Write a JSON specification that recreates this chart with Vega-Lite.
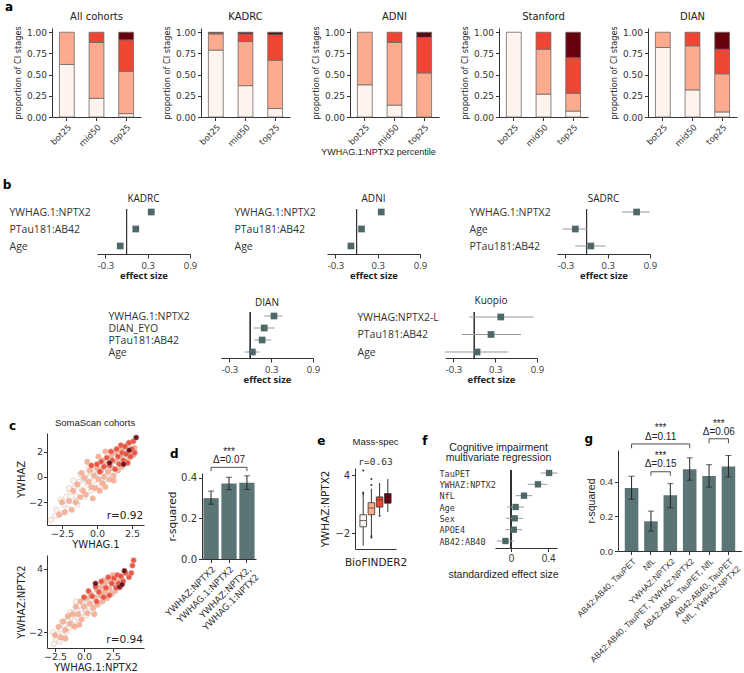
{
"$schema": "https://vega.github.io/schema/vega-lite/v6.json",
"padding": {"left": 2, "top": 0, "right": 0, "bottom": 0},
"config": {"background": "white", "view": {"stroke": null}, "font": "DejaVu Sans",
 "axis": {"grid": false, "domainColor": "#333", "tickColor": "#333", "labelColor": "#333", "titleColor": "#222", "labelFont": "DejaVu Sans", "titleFont": "DejaVu Sans", "titleFontWeight": "normal", "labelFontSize": 10, "titleFontSize": 10.5, "tickSize": 3.5, "labelPadding": 2, "titlePadding": 3, "labelFlush": false},
 "title": {"font": "DejaVu Sans", "fontWeight": "normal", "fontSize": 10, "color": "#222", "offset": 4}},
"datasets": {
 "a": [
  {"c":"All cohorts","g":"bot25","s":0,"v":0.62},{"c":"All cohorts","g":"bot25","s":1,"v":0.38},
  {"c":"All cohorts","g":"mid50","s":0,"v":0.22},{"c":"All cohorts","g":"mid50","s":1,"v":0.66},{"c":"All cohorts","g":"mid50","s":2,"v":0.12},
  {"c":"All cohorts","g":"top25","s":0,"v":0.04},{"c":"All cohorts","g":"top25","s":1,"v":0.50},{"c":"All cohorts","g":"top25","s":2,"v":0.37},{"c":"All cohorts","g":"top25","s":3,"v":0.09},
  {"c":"KADRC","g":"bot25","s":0,"v":0.79},{"c":"KADRC","g":"bot25","s":1,"v":0.19},{"c":"KADRC","g":"bot25","s":2,"v":0.015},{"c":"KADRC","g":"bot25","s":3,"v":0.005},
  {"c":"KADRC","g":"mid50","s":0,"v":0.37},{"c":"KADRC","g":"mid50","s":1,"v":0.52},{"c":"KADRC","g":"mid50","s":2,"v":0.09},{"c":"KADRC","g":"mid50","s":3,"v":0.02},
  {"c":"KADRC","g":"top25","s":0,"v":0.10},{"c":"KADRC","g":"top25","s":1,"v":0.57},{"c":"KADRC","g":"top25","s":2,"v":0.30},{"c":"KADRC","g":"top25","s":3,"v":0.03},
  {"c":"ADNI","g":"bot25","s":0,"v":0.38},{"c":"ADNI","g":"bot25","s":1,"v":0.62},
  {"c":"ADNI","g":"mid50","s":0,"v":0.14},{"c":"ADNI","g":"mid50","s":1,"v":0.74},{"c":"ADNI","g":"mid50","s":2,"v":0.12},
  {"c":"ADNI","g":"top25","s":1,"v":0.52},{"c":"ADNI","g":"top25","s":2,"v":0.42},{"c":"ADNI","g":"top25","s":3,"v":0.06},
  {"c":"Stanford","g":"bot25","s":0,"v":1.0},
  {"c":"Stanford","g":"mid50","s":0,"v":0.27},{"c":"Stanford","g":"mid50","s":1,"v":0.53},{"c":"Stanford","g":"mid50","s":2,"v":0.20},
  {"c":"Stanford","g":"top25","s":0,"v":0.07},{"c":"Stanford","g":"top25","s":1,"v":0.21},{"c":"Stanford","g":"top25","s":2,"v":0.42},{"c":"Stanford","g":"top25","s":3,"v":0.30},
  {"c":"DIAN","g":"bot25","s":0,"v":0.82},{"c":"DIAN","g":"bot25","s":1,"v":0.18},
  {"c":"DIAN","g":"mid50","s":0,"v":0.32},{"c":"DIAN","g":"mid50","s":1,"v":0.52},{"c":"DIAN","g":"mid50","s":2,"v":0.16},
  {"c":"DIAN","g":"top25","s":0,"v":0.06},{"c":"DIAN","g":"top25","s":1,"v":0.45},{"c":"DIAN","g":"top25","s":2,"v":0.29},{"c":"DIAN","g":"top25","s":3,"v":0.20}
 ],
 "b": [
  {"c":"KADRC","v":"YWHAG.1:NPTX2","e":0.35,"lo":0.30,"hi":0.40},
  {"c":"KADRC","v":"PTau181:AB42","e":0.13,"lo":0.09,"hi":0.18},
  {"c":"KADRC","v":"Age","e":-0.09,"lo":-0.12,"hi":-0.06},
  {"c":"ADNI","v":"YWHAG.1:NPTX2","e":0.35,"lo":0.32,"hi":0.38},
  {"c":"ADNI","v":"PTau181:AB42","e":0.07,"lo":0.04,"hi":0.10},
  {"c":"ADNI","v":"Age","e":-0.08,"lo":-0.13,"hi":-0.04},
  {"c":"SADRC","v":"YWHAG.1:NPTX2","e":0.71,"lo":0.50,"hi":0.90},
  {"c":"SADRC","v":"Age","e":-0.16,"lo":-0.34,"hi":0.01},
  {"c":"SADRC","v":"PTau181:AB42","e":0.06,"lo":-0.16,"hi":0.27},
  {"c":"DIAN","v":"YWHAG.1:NPTX2","e":0.34,"lo":0.20,"hi":0.46},
  {"c":"DIAN","v":"DIAN_EYO","e":0.20,"lo":0.05,"hi":0.35},
  {"c":"DIAN","v":"PTau181:AB42","e":0.17,"lo":0.06,"hi":0.30},
  {"c":"DIAN","v":"Age","e":0.03,"lo":-0.08,"hi":0.13},
  {"c":"Kuopio","v":"YWHAG:NPTX2-L","e":0.38,"lo":-0.07,"hi":0.85},
  {"c":"Kuopio","v":"PTau181:AB42","e":0.24,"lo":-0.18,"hi":0.67},
  {"c":"Kuopio","v":"Age","e":0.04,"lo":-0.42,"hi":0.49}
 ],
 "c1": [
  {"x":-3.3,"y":-3.4,"s":0},{"x":-3.0,"y":-3.1,"s":0},{"x":-2.9,"y":-2.6,"s":0},{"x":-2.6,"y":-2.9,"s":0},{"x":-2.4,"y":-2.2,"s":0},{"x":-2.2,"y":-1.6,"s":0},{"x":-2.1,"y":-2.5,"s":0},{"x":-1.9,"y":-1.2,"s":0},{"x":-1.8,"y":-1.9,"s":0},{"x":-1.6,"y":-0.8,"s":0},{"x":-1.5,"y":-1.5,"s":0},{"x":-1.4,"y":-2.2,"s":0},{"x":-1.3,"y":-0.4,"s":0},{"x":-1.1,"y":-1.0,"s":0},{"x":-1.0,"y":-0.2,"s":0},{"x":-0.9,"y":-1.6,"s":0},{"x":-0.8,"y":0.3,"s":0},{"x":-0.7,"y":-0.6,"s":0},{"x":-0.5,"y":0.0,"s":0},{"x":-0.4,"y":-1.1,"s":0},{"x":-0.3,"y":0.6,"s":0},{"x":-0.2,"y":-0.3,"s":0},{"x":0.0,"y":0.2,"s":0},{"x":0.1,"y":-0.8,"s":0},{"x":0.2,"y":0.9,"s":0},{"x":0.3,"y":0.1,"s":0},{"x":0.5,"y":-0.3,"s":0},{"x":0.6,"y":0.7,"s":0},{"x":0.8,"y":0.3,"s":0},{"x":1.0,"y":1.2,"s":0},{"x":-2.0,"y":-0.9,"s":0},{"x":-1.7,"y":-0.3,"s":0},{"x":-2.6,"y":-1.8,"s":0},{"x":-1.2,"y":0.2,"s":0},{"x":-0.6,"y":0.8,"s":0},
  {"x":-2.7,"y":-3.0,"s":1},{"x":-2.5,"y":-2.0,"s":1},{"x":-2.3,"y":-2.8,"s":1},{"x":-2.0,"y":-1.9,"s":1},{"x":-1.8,"y":-2.6,"s":1},{"x":-1.7,"y":-1.1,"s":1},{"x":-1.5,"y":-2.0,"s":1},{"x":-1.4,"y":-0.6,"s":1},{"x":-1.2,"y":-1.6,"s":1},{"x":-1.0,"y":-1.1,"s":1},{"x":-0.9,"y":-0.1,"s":1},{"x":-0.8,"y":-1.4,"s":1},{"x":-0.6,"y":-0.4,"s":1},{"x":-0.5,"y":0.5,"s":1},{"x":-0.4,"y":-0.8,"s":1},{"x":-0.2,"y":0.1,"s":1},{"x":-0.1,"y":-0.9,"s":1},{"x":0.0,"y":0.7,"s":1},{"x":0.1,"y":-0.2,"s":1},{"x":0.2,"y":-1.1,"s":1},{"x":0.3,"y":0.5,"s":1},{"x":0.4,"y":1.3,"s":1},{"x":0.5,"y":0.0,"s":1},{"x":0.6,"y":-0.8,"s":1},{"x":0.7,"y":1.0,"s":1},{"x":0.8,"y":0.4,"s":1},{"x":0.9,"y":-0.2,"s":1},{"x":1.0,"y":1.6,"s":1},{"x":1.1,"y":0.7,"s":1},{"x":1.2,"y":0.1,"s":1},{"x":1.3,"y":1.9,"s":1},{"x":1.4,"y":1.2,"s":1},{"x":1.5,"y":0.5,"s":1},{"x":1.6,"y":2.1,"s":1},{"x":1.7,"y":1.5,"s":1},{"x":1.8,"y":0.8,"s":1},{"x":1.9,"y":2.3,"s":1},{"x":2.0,"y":1.8,"s":1},{"x":2.1,"y":1.1,"s":1},{"x":2.2,"y":2.6,"s":1},{"x":2.3,"y":1.5,"s":1},{"x":2.4,"y":2.0,"s":1},{"x":2.6,"y":1.7,"s":1},{"x":2.7,"y":2.3,"s":1},{"x":-1.1,"y":0.3,"s":1},{"x":-0.3,"y":-1.7,"s":1},{"x":0.4,"y":-0.5,"s":1},{"x":1.2,"y":-0.3,"s":1},{"x":-0.7,"y":1.2,"s":1},{"x":0.1,"y":1.6,"s":1},{"x":0.6,"y":2.0,"s":1},
  {"x":0.0,"y":1.0,"s":2},{"x":0.3,"y":1.2,"s":2},{"x":0.5,"y":0.8,"s":2},{"x":0.7,"y":1.5,"s":2},{"x":0.9,"y":0.9,"s":2},{"x":1.0,"y":2.0,"s":2},{"x":1.1,"y":1.3,"s":2},{"x":1.3,"y":0.6,"s":2},{"x":1.4,"y":2.2,"s":2},{"x":1.5,"y":1.6,"s":2},{"x":1.6,"y":1.0,"s":2},{"x":1.7,"y":2.5,"s":2},{"x":1.8,"y":1.9,"s":2},{"x":1.9,"y":1.3,"s":2},{"x":2.0,"y":2.4,"s":2},{"x":2.1,"y":1.8,"s":2},{"x":2.2,"y":1.1,"s":2},{"x":2.3,"y":2.7,"s":2},{"x":2.4,"y":1.6,"s":2},{"x":2.5,"y":2.2,"s":2},{"x":2.6,"y":2.8,"s":2},{"x":2.7,"y":1.9,"s":2},{"x":-0.4,"y":0.9,"s":2},{"x":0.2,"y":0.4,"s":2},
  {"x":2.8,"y":3.1,"s":3},{"x":1.9,"y":1.0,"s":3},{"x":0.9,"y":1.1,"s":3},{"x":2.3,"y":2.1,"s":3}
 ],
 "c2": [
  {"x":-2.6,"y":-3.1,"s":0},{"x":-2.4,"y":-2.7,"s":0},{"x":-2.3,"y":-2.2,"s":0},{"x":-2.1,"y":-2.9,"s":0},{"x":-2.0,"y":-1.7,"s":0},{"x":-1.8,"y":-2.3,"s":0},{"x":-1.7,"y":-1.3,"s":0},{"x":-1.5,"y":-2.0,"s":0},{"x":-1.4,"y":-0.9,"s":0},{"x":-1.3,"y":-1.6,"s":0},{"x":-1.1,"y":-0.6,"s":0},{"x":-1.0,"y":-1.3,"s":0},{"x":-0.9,"y":-0.2,"s":0},{"x":-0.8,"y":-0.9,"s":0},{"x":-0.6,"y":0.1,"s":0},{"x":-0.5,"y":-0.6,"s":0},{"x":-0.4,"y":0.5,"s":0},{"x":-0.2,"y":-0.2,"s":0},{"x":-0.1,"y":0.8,"s":0},{"x":0.1,"y":0.2,"s":0},{"x":0.2,"y":-0.4,"s":0},{"x":0.3,"y":0.9,"s":0},{"x":0.5,"y":0.4,"s":0},{"x":0.7,"y":1.1,"s":0},{"x":0.8,"y":-0.1,"s":0},{"x":1.0,"y":0.8,"s":0},{"x":1.2,"y":1.4,"s":0},{"x":-1.9,"y":-1.0,"s":0},{"x":-1.2,"y":-0.1,"s":0},{"x":0.4,"y":1.5,"s":0},{"x":-2.7,"y":-2.0,"s":0},{"x":-0.7,"y":0.9,"s":0},
  {"x":-2.5,"y":-2.3,"s":1},{"x":-2.2,"y":-1.5,"s":1},{"x":-2.0,"y":-2.5,"s":1},{"x":-1.8,"y":-1.0,"s":1},{"x":-1.6,"y":-1.8,"s":1},{"x":-1.4,"y":-0.5,"s":1},{"x":-1.2,"y":-1.2,"s":1},{"x":-1.0,"y":-0.3,"s":1},{"x":-0.8,"y":-1.5,"s":1},{"x":-0.7,"y":0.4,"s":1},{"x":-0.5,"y":-0.3,"s":1},{"x":-0.3,"y":0.9,"s":1},{"x":-0.2,"y":-0.8,"s":1},{"x":0.0,"y":0.4,"s":1},{"x":0.2,"y":1.2,"s":1},{"x":0.3,"y":-0.2,"s":1},{"x":0.5,"y":0.7,"s":1},{"x":0.6,"y":1.6,"s":1},{"x":0.8,"y":0.3,"s":1},{"x":0.9,"y":1.3,"s":1},{"x":1.1,"y":2.0,"s":1},{"x":1.2,"y":0.6,"s":1},{"x":1.4,"y":1.5,"s":1},{"x":1.5,"y":2.3,"s":1},{"x":1.6,"y":0.9,"s":1},{"x":1.8,"y":1.8,"s":1},{"x":1.9,"y":2.7,"s":1},{"x":2.0,"y":1.2,"s":1},{"x":2.2,"y":2.1,"s":1},{"x":2.3,"y":3.0,"s":1},{"x":2.4,"y":1.6,"s":1},{"x":2.6,"y":2.5,"s":1},{"x":2.7,"y":1.9,"s":1},{"x":2.9,"y":2.8,"s":1},{"x":3.1,"y":2.2,"s":1},{"x":3.3,"y":3.0,"s":1},{"x":-1.6,"y":-2.6,"s":1},{"x":-0.4,"y":-1.3,"s":1},{"x":0.9,"y":-0.3,"s":1},{"x":1.7,"y":2.9,"s":1},{"x":2.5,"y":3.4,"s":1},
  {"x":0.4,"y":1.9,"s":2},{"x":0.7,"y":1.4,"s":2},{"x":1.0,"y":2.3,"s":2},{"x":1.3,"y":1.8,"s":2},{"x":1.5,"y":2.8,"s":2},{"x":1.7,"y":1.3,"s":2},{"x":1.9,"y":2.2,"s":2},{"x":2.1,"y":3.2,"s":2},{"x":2.2,"y":1.5,"s":2},{"x":2.4,"y":2.6,"s":2},{"x":2.6,"y":3.1,"s":2},{"x":2.8,"y":2.2,"s":2},{"x":2.9,"y":3.4,"s":2},{"x":3.0,"y":2.6,"s":2},{"x":3.2,"y":3.3,"s":2},{"x":3.4,"y":2.8,"s":2},{"x":3.6,"y":3.6,"s":2},{"x":3.9,"y":3.2,"s":2},{"x":4.2,"y":4.3,"s":2},{"x":4.3,"y":4.8,"s":2},{"x":4.1,"y":3.6,"s":2},{"x":0.0,"y":1.3,"s":2},{"x":1.1,"y":0.9,"s":2},
  {"x":3.5,"y":3.8,"s":3},{"x":3.1,"y":2.3,"s":3},{"x":3.3,"y":2.5,"s":3},{"x":1.0,"y":2.6,"s":3}
 ],
 "d": [
  {"m":"YWHAZ:NPTX2","v":0.30,"lo":0.27,"hi":0.335},
  {"m":"YWHAG.1:NPTX2","v":0.372,"lo":0.342,"hi":0.403},
  {"m":"YWHAZ:NPTX2,|YWHAG.1:NPTX2","v":0.376,"lo":0.343,"hi":0.41}
 ],
 "dbr": [
  {"m":"YWHAZ:NPTX2","y":0.433,"o":1},{"m":"YWHAZ:NPTX2","y":0.452,"o":2},
  {"m":"YWHAZ:NPTX2,|YWHAG.1:NPTX2","y":0.452,"o":3},{"m":"YWHAZ:NPTX2,|YWHAG.1:NPTX2","y":0.433,"o":4}
 ],
 "dtx": [
  {"m":"YWHAG.1:NPTX2","y":0.49,"t":"Δ=0.07"},
  {"m":"YWHAG.1:NPTX2","y":0.53,"t":"***"}
 ],
 "ebox": [
  {"s":0,"lo":-3.3,"q1":-1.35,"med":-0.7,"q3":-0.1,"hi":2.0},
  {"s":1,"lo":-2.2,"q1":-0.1,"med":0.6,"q3":1.15,"hi":2.6},
  {"s":2,"lo":-0.1,"q1":0.7,"med":1.45,"q3":1.75,"hi":3.2},
  {"s":3,"lo":0.2,"q1":1.1,"med":1.6,"q3":2.1,"hi":3.6}
 ],
 "eout": [
  {"s":0,"v":4.5},{"s":0,"v":2.2},{"s":0,"v":2.05},
  {"s":1,"v":3.6},{"s":1,"v":3.0},{"s":1,"v":-2.3},{"s":1,"v":-2.45},
  {"s":2,"v":-0.2}
 ],
 "f": [
  {"v":"TauPET","e":0.41,"lo":0.32,"hi":0.50},
  {"v":"YWHAZ:NPTX2","e":0.29,"lo":0.18,"hi":0.39},
  {"v":"NfL","e":0.14,"lo":0.05,"hi":0.23},
  {"v":"Age","e":0.05,"lo":-0.04,"hi":0.14},
  {"v":"Sex","e":0.04,"lo":-0.05,"hi":0.13},
  {"v":"APOE4","e":0.03,"lo":-0.06,"hi":0.12},
  {"v":"AB42:AB40","e":-0.06,"lo":-0.15,"hi":0.03}
 ],
 "g": [
  {"m":"AB42:AB40, TauPET","v":0.365,"lo":0.30,"hi":0.433},
  {"m":"NfL","v":0.172,"lo":0.116,"hi":0.231},
  {"m":"YWHAZ:NPTX2","v":0.323,"lo":0.25,"hi":0.39},
  {"m":"AB42:AB40, TauPET, YWHAZ:NPTX2","v":0.474,"lo":0.41,"hi":0.54},
  {"m":"AB42:AB40, TauPET, NfL","v":0.435,"lo":0.37,"hi":0.50},
  {"m":"AB42:AB40, TauPET|NfL, YWHAZ:NPTX2","v":0.49,"lo":0.429,"hi":0.553}
 ],
 "gbr": [
  {"b":1,"m":"AB42:AB40, TauPET","y":0.595,"o":1},{"b":1,"m":"AB42:AB40, TauPET","y":0.62,"o":2},
  {"b":1,"m":"AB42:AB40, TauPET, YWHAZ:NPTX2","y":0.62,"o":3},{"b":1,"m":"AB42:AB40, TauPET, YWHAZ:NPTX2","y":0.595,"o":4},
  {"b":2,"m":"NfL","y":0.436,"o":1},{"b":2,"m":"NfL","y":0.459,"o":2},
  {"b":2,"m":"YWHAZ:NPTX2","y":0.459,"o":3},{"b":2,"m":"YWHAZ:NPTX2","y":0.436,"o":4},
  {"b":3,"m":"AB42:AB40, TauPET, NfL","y":0.624,"o":1},{"b":3,"m":"AB42:AB40, TauPET, NfL","y":0.65,"o":2},
  {"b":3,"m":"AB42:AB40, TauPET|NfL, YWHAZ:NPTX2","y":0.65,"o":3},{"b":3,"m":"AB42:AB40, TauPET|NfL, YWHAZ:NPTX2","y":0.624,"o":4}
 ],
 "gtx": [
  {"m":"NfL","y":0.663,"t":"Δ=0.11"},{"m":"NfL","y":0.71,"t":"***"},
  {"m":"NfL","y":0.502,"t":"Δ=0.15"},{"m":"NfL","y":0.55,"t":"***"},
  {"m":"AB42:AB40, TauPET, NfL","y":0.688,"t":"Δ=0.06"},{"m":"AB42:AB40, TauPET, NfL","y":0.737,"t":"***"}
 ]
},
"spacing": 0,
"vconcat": [
 {"title": {"text": "a", "anchor": "start", "fontWeight": "bold", "fontSize": 12, "offset": -2, "color": "#000"},
  "spacing": 0,
  "hconcat": [
   {"width": 8, "height": 1, "data": {"values": [{}]}, "mark": {"type": "point", "opacity": 0}},
   {"bounds": "flush", "spacing": 60,
    "hconcat": [
     {"width": 89, "height": 89, "title": {"text": "All cohorts", "offset": 4}, "data": {"name": "a"}, "transform": [{"filter": "datum.c === 'All cohorts'"}],
      "mark": {"type": "bar", "stroke": "#6b6b6b", "strokeWidth": 0.8},
      "encoding": {
       "x": {"field": "g", "type": "nominal", "sort": ["bot25","mid50","top25"], "scale": {"paddingInner": 0.5, "paddingOuter": 0.25}, "axis": {"title": null, "labelAngle": -45, "labelFontSize": 8.5}},
       "y": {"field": "v", "type": "quantitative", "stack": "zero", "scale": {"domain": [0, 1.05], "nice": false}, "axis": {"values": [0,0.25,0.5,0.75,1], "format": ".2f", "title": "proportion of CI stages", "titleFontSize": 8.2, "labelFontSize": 9, "titlePadding": 4}},
       "color": {"field": "s", "type": "ordinal", "scale": {"domain": [0,1,2,3], "range": ["#fef3ed","#fcab8f","#ef4533","#67000d"]}, "legend": null},
       "order": {"field": "s", "type": "quantitative"}}},
     {"width": 89, "height": 89, "title": {"text": "KADRC", "offset": 4}, "data": {"name": "a"}, "transform": [{"filter": "datum.c === 'KADRC'"}],
      "mark": {"type": "bar", "stroke": "#6b6b6b", "strokeWidth": 0.8},
      "encoding": {
       "x": {"field": "g", "type": "nominal", "sort": ["bot25","mid50","top25"], "scale": {"paddingInner": 0.5, "paddingOuter": 0.25}, "axis": {"title": null, "labelAngle": -45, "labelFontSize": 8.5}},
       "y": {"field": "v", "type": "quantitative", "stack": "zero", "scale": {"domain": [0, 1.05], "nice": false}, "axis": {"values": [0,0.25,0.5,0.75,1], "format": ".2f", "title": "proportion of CI stages", "titleFontSize": 8.2, "labelFontSize": 9, "titlePadding": 4}},
       "color": {"field": "s", "type": "ordinal", "scale": {"domain": [0,1,2,3], "range": ["#fef3ed","#fcab8f","#ef4533","#67000d"]}, "legend": null},
       "order": {"field": "s", "type": "quantitative"}}},
     {"width": 89, "height": 89, "title": {"text": "ADNI", "offset": 4}, "data": {"name": "a"}, "transform": [{"filter": "datum.c === 'ADNI'"}],
      "mark": {"type": "bar", "stroke": "#6b6b6b", "strokeWidth": 0.8},
      "encoding": {
       "x": {"field": "g", "type": "nominal", "sort": ["bot25","mid50","top25"], "scale": {"paddingInner": 0.5, "paddingOuter": 0.25}, "axis": {"title": "YWHAG.1:NPTX2 percentile", "titleFont": "Liberation Sans", "titleFontSize": 9, "titleX": 28, "titlePadding": 0, "labelAngle": -45, "labelFontSize": 8.5}},
       "y": {"field": "v", "type": "quantitative", "stack": "zero", "scale": {"domain": [0, 1.05], "nice": false}, "axis": {"values": [0,0.25,0.5,0.75,1], "format": ".2f", "title": "proportion of CI stages", "titleFontSize": 8.2, "labelFontSize": 9, "titlePadding": 4}},
       "color": {"field": "s", "type": "ordinal", "scale": {"domain": [0,1,2,3], "range": ["#fef3ed","#fcab8f","#ef4533","#67000d"]}, "legend": null},
       "order": {"field": "s", "type": "quantitative"}}},
     {"width": 89, "height": 89, "title": {"text": "Stanford", "offset": 4}, "data": {"name": "a"}, "transform": [{"filter": "datum.c === 'Stanford'"}],
      "mark": {"type": "bar", "stroke": "#6b6b6b", "strokeWidth": 0.8},
      "encoding": {
       "x": {"field": "g", "type": "nominal", "sort": ["bot25","mid50","top25"], "scale": {"paddingInner": 0.5, "paddingOuter": 0.25}, "axis": {"title": null, "labelAngle": -45, "labelFontSize": 8.5}},
       "y": {"field": "v", "type": "quantitative", "stack": "zero", "scale": {"domain": [0, 1.05], "nice": false}, "axis": {"values": [0,0.25,0.5,0.75,1], "format": ".2f", "title": "proportion of CI stages", "titleFontSize": 8.2, "labelFontSize": 9, "titlePadding": 4}},
       "color": {"field": "s", "type": "ordinal", "scale": {"domain": [0,1,2,3], "range": ["#fef3ed","#fcab8f","#ef4533","#67000d"]}, "legend": null},
       "order": {"field": "s", "type": "quantitative"}}},
     {"width": 89, "height": 89, "title": {"text": "DIAN", "offset": 4}, "data": {"name": "a"}, "transform": [{"filter": "datum.c === 'DIAN'"}],
      "mark": {"type": "bar", "stroke": "#6b6b6b", "strokeWidth": 0.8},
      "encoding": {
       "x": {"field": "g", "type": "nominal", "sort": ["bot25","mid50","top25"], "scale": {"paddingInner": 0.5, "paddingOuter": 0.25}, "axis": {"title": null, "labelAngle": -45, "labelFontSize": 8.5}},
       "y": {"field": "v", "type": "quantitative", "stack": "zero", "scale": {"domain": [0, 1.05], "nice": false}, "axis": {"values": [0,0.25,0.5,0.75,1], "format": ".2f", "title": "proportion of CI stages", "titleFontSize": 8.2, "labelFontSize": 9, "titlePadding": 4}},
       "color": {"field": "s", "type": "ordinal", "scale": {"domain": [0,1,2,3], "range": ["#fef3ed","#fcab8f","#ef4533","#67000d"]}, "legend": null},
       "order": {"field": "s", "type": "quantitative"}}}
    ]}
  ]},
 {"width": 1, "height": 22, "data": {"values": [{}]}, "mark": {"type": "point", "opacity": 0}},
 {"title": {"text": "b", "anchor": "start", "fontWeight": "bold", "fontSize": 12, "offset": 2, "color": "#000"},
  "spacing": 0,
  "hconcat": [
   {"width": 1, "height": 1, "data": {"values": [{}]}, "mark": {"type": "point", "opacity": 0}},
   {"bounds": "flush", "spacing": 137,
    "hconcat": [
     {"width": 93, "height": 45, "title": {"text": "KADRC", "font": "Open Sans", "fontSize": 10, "offset": 3}, "data": {"name": "b"}, "transform": [{"filter": "datum.c === 'KADRC'"}],
      "layer": [
       {"mark": {"type": "rule", "color": "#333"}, "encoding": {"x": {"datum": 0, "type": "quantitative", "scale": {"domain": [-0.42, 0.9], "nice": false}, "axis": {"values": [-0.3,0,0.3,0.6,0.9], "labelExpr": "datum.value === 0 ? '0' : replace(format(datum.value, '.1f'), '\u2212', '-')", "title": "effect size", "titleFont": "Open Sans", "titleFontWeight": "bold", "titleFontSize": 9.5, "labelFont": "Open Sans", "labelFontSize": 9.5, "titlePadding": 1, "tickSize": 4}}}},
       {"mark": {"type": "rule", "color": "#999"}, "encoding": {"x": {"field": "lo", "type": "quantitative", "title": "effect size"}, "x2": {"field": "hi"}, "y": {"field": "v", "type": "nominal", "sort": null, "scale": {"type": "point", "range": [3, 37], "padding": 0}, "axis": {"title": null, "domain": false, "ticks": false, "labelAlign": "left", "labelPadding": 88, "labelFont": "Open Sans", "labelFontSize": 10.5}}}},
       {"mark": {"type": "square", "size": 45, "color": "#4e6868", "opacity": 1}, "encoding": {"x": {"field": "e", "type": "quantitative", "title": "effect size"}, "y": {"field": "v", "type": "nominal", "sort": null, "title": null}}}
      ]},
     {"width": 93, "height": 45, "title": {"text": "ADNI", "font": "Open Sans", "fontSize": 10, "offset": 3}, "data": {"name": "b"}, "transform": [{"filter": "datum.c === 'ADNI'"}],
      "layer": [
       {"mark": {"type": "rule", "color": "#333"}, "encoding": {"x": {"datum": 0, "type": "quantitative", "scale": {"domain": [-0.42, 0.9], "nice": false}, "axis": {"values": [-0.3,0,0.3,0.6,0.9], "labelExpr": "datum.value === 0 ? '0' : replace(format(datum.value, '.1f'), '\u2212', '-')", "title": "effect size", "titleFont": "Open Sans", "titleFontWeight": "bold", "titleFontSize": 9.5, "labelFont": "Open Sans", "labelFontSize": 9.5, "titlePadding": 1, "tickSize": 4}}}},
       {"mark": {"type": "rule", "color": "#999"}, "encoding": {"x": {"field": "lo", "type": "quantitative", "title": "effect size"}, "x2": {"field": "hi"}, "y": {"field": "v", "type": "nominal", "sort": null, "scale": {"type": "point", "range": [3, 37], "padding": 0}, "axis": {"title": null, "domain": false, "ticks": false, "labelAlign": "left", "labelPadding": 93, "labelFont": "Open Sans", "labelFontSize": 10.5}}}},
       {"mark": {"type": "square", "size": 45, "color": "#4e6868", "opacity": 1}, "encoding": {"x": {"field": "e", "type": "quantitative", "title": "effect size"}, "y": {"field": "v", "type": "nominal", "sort": null, "title": null}}}
      ]},
     {"width": 93, "height": 45, "title": {"text": "SADRC", "font": "Open Sans", "fontSize": 10, "offset": 3}, "data": {"name": "b"}, "transform": [{"filter": "datum.c === 'SADRC'"}],
      "layer": [
       {"mark": {"type": "rule", "color": "#333"}, "encoding": {"x": {"datum": 0, "type": "quantitative", "scale": {"domain": [-0.42, 0.9], "nice": false}, "axis": {"values": [-0.3,0,0.3,0.6,0.9], "labelExpr": "datum.value === 0 ? '0' : replace(format(datum.value, '.1f'), '\u2212', '-')", "title": "effect size", "titleFont": "Open Sans", "titleFontWeight": "bold", "titleFontSize": 9.5, "labelFont": "Open Sans", "labelFontSize": 9.5, "titlePadding": 1, "tickSize": 4}}}},
       {"mark": {"type": "rule", "color": "#999"}, "encoding": {"x": {"field": "lo", "type": "quantitative", "title": "effect size"}, "x2": {"field": "hi"}, "y": {"field": "v", "type": "nominal", "sort": null, "scale": {"type": "point", "range": [3, 37], "padding": 0}, "axis": {"title": null, "domain": false, "ticks": false, "labelAlign": "left", "labelPadding": 88, "labelFont": "Open Sans", "labelFontSize": 10.5}}}},
       {"mark": {"type": "square", "size": 45, "color": "#4e6868", "opacity": 1}, "encoding": {"x": {"field": "e", "type": "quantitative", "title": "effect size"}, "y": {"field": "v", "type": "nominal", "sort": null, "title": null}}}
      ]}
    ]}
  ]},
 {"width": 1, "height": 15, "data": {"values": [{}]}, "mark": {"type": "point", "opacity": 0}},
 {"spacing": 0,
  "hconcat": [
   {"width": 103, "height": 1, "data": {"values": [{}]}, "mark": {"type": "point", "opacity": 0}},
   {"bounds": "flush", "spacing": 132,
    "hconcat": [
     {"width": 92, "height": 46, "title": {"text": "DIAN", "font": "Open Sans", "fontSize": 10, "offset": 3}, "data": {"name": "b"}, "transform": [{"filter": "datum.c === 'DIAN'"}],
      "layer": [
       {"mark": {"type": "rule", "color": "#333"}, "encoding": {"x": {"datum": 0, "type": "quantitative", "scale": {"domain": [-0.42, 0.9], "nice": false}, "axis": {"values": [-0.3,0,0.3,0.6,0.9], "labelExpr": "datum.value === 0 ? '0' : replace(format(datum.value, '.1f'), '\u2212', '-')", "title": "effect size", "titleFont": "Open Sans", "titleFontWeight": "bold", "titleFontSize": 9.5, "labelFont": "Open Sans", "labelFontSize": 9.5, "titlePadding": 1, "tickSize": 4}}}},
       {"mark": {"type": "rule", "color": "#999"}, "encoding": {"x": {"field": "lo", "type": "quantitative", "title": "effect size"}, "x2": {"field": "hi"}, "y": {"field": "v", "type": "nominal", "sort": null, "scale": {"type": "point", "range": [4, 40], "padding": 0}, "axis": {"title": null, "domain": false, "ticks": false, "labelAlign": "left", "labelPadding": 113, "labelFont": "Open Sans", "labelFontSize": 10.5}}}},
       {"mark": {"type": "square", "size": 45, "color": "#4e6868", "opacity": 1}, "encoding": {"x": {"field": "e", "type": "quantitative", "title": "effect size"}, "y": {"field": "v", "type": "nominal", "sort": null, "title": null}}}
      ]},
     {"width": 92, "height": 46, "title": {"text": "Kuopio", "font": "Open Sans", "fontSize": 10, "offset": 6}, "data": {"name": "b"}, "transform": [{"filter": "datum.c === 'Kuopio'"}],
      "layer": [
       {"mark": {"type": "rule", "color": "#333"}, "encoding": {"x": {"datum": 0, "type": "quantitative", "scale": {"domain": [-0.42, 0.9], "nice": false}, "axis": {"values": [-0.3,0,0.3,0.6,0.9], "labelExpr": "datum.value === 0 ? '0' : replace(format(datum.value, '.1f'), '\u2212', '-')", "title": "effect size", "titleFont": "Open Sans", "titleFontWeight": "bold", "titleFontSize": 9.5, "labelFont": "Open Sans", "labelFontSize": 9.5, "titlePadding": 1, "tickSize": 4}}}},
       {"mark": {"type": "rule", "color": "#999"}, "encoding": {"x": {"field": "lo", "type": "quantitative", "title": "effect size"}, "x2": {"field": "hi"}, "y": {"field": "v", "type": "nominal", "sort": null, "scale": {"type": "point", "range": [5, 40], "padding": 0}, "axis": {"title": null, "domain": false, "ticks": false, "labelAlign": "left", "labelPadding": 88, "labelFont": "Open Sans", "labelFontSize": 10.5}}}},
       {"mark": {"type": "square", "size": 45, "color": "#4e6868", "opacity": 1}, "encoding": {"x": {"field": "e", "type": "quantitative", "title": "effect size"}, "y": {"field": "v", "type": "nominal", "sort": null, "title": null}}}
      ]}
    ]}
  ]},
 {"width": 1, "height": 26, "data": {"values": [{}]}, "mark": {"type": "point", "opacity": 0}},
 {"spacing": 0,
  "hconcat": [
   {"width": 1, "height": 1, "data": {"values": [{}]}, "mark": {"type": "point", "opacity": 0}},
   {"spacing": 0,
    "vconcat": [
     {"width": 1, "height": 2, "data": {"values": [{}]}, "mark": {"type": "point", "opacity": 0}},
     {"spacing": 6,
      "vconcat": [
       {"width": 97, "height": 92, "data": {"name": "c1"},
        "layer": [
         {"mark": {"type": "circle", "size": 30, "opacity": 0.9, "stroke": "#cdb7ad", "strokeWidth": 0.5},
          "encoding": {
           "x": {"field": "x", "type": "quantitative", "scale": {"domain": [-3.57, 3.36], "nice": false, "zero": false}, "axis": {"values": [-2.5, 0, 2.5], "format": ".1f", "title": "YWHAG.1", "labelFontSize": 9.5, "labelPadding": 0, "titlePadding": 1, "titleFontSize": 10}},
           "y": {"field": "y", "type": "quantitative", "scale": {"domain": [-3.8, 3.46], "nice": false, "zero": false}, "axis": {"values": [-2, 0, 2], "title": "YWHAZ", "labelFontSize": 9.5, "labelPadding": 1, "titlePadding": 2, "titleFontSize": 10}},
           "color": {"field": "s", "type": "ordinal", "scale": {"domain": [0,1,2,3], "range": ["#fef3ed","#fcab8f","#ef4533","#67000d"]}, "legend": null},
           "order": {"field": "s", "type": "quantitative"}}},
         {"data": {"values": [{"t": "r=0.92"}]}, "mark": {"type": "text", "align": "right", "baseline": "bottom", "fontSize": 10.5, "color": "#222"},
          "encoding": {"text": {"field": "t"}, "x": {"datum": 3.3}, "y": {"datum": -3.45}}},
         {"data": {"values": [{"t": "SomaScan cohorts"}]}, "mark": {"type": "text", "align": "center", "baseline": "middle", "fontSize": 9.5, "font": "Liberation Sans", "color": "#222"},
          "encoding": {"text": {"field": "t"}, "x": {"datum": -0.14}, "y": {"datum": 4.25}}},
         {"data": {"values": [{"t": "c"}]}, "mark": {"type": "text", "align": "left", "baseline": "middle", "fontSize": 12, "fontWeight": "bold", "color": "#000"},
          "encoding": {"text": {"field": "t"}, "x": {"datum": -6.28}, "y": {"datum": 4.0}}}
        ]},
       {"width": 97, "height": 93, "data": {"name": "c2"},
        "layer": [
         {"mark": {"type": "circle", "size": 30, "opacity": 0.9, "stroke": "#cdb7ad", "strokeWidth": 0.5},
          "encoding": {
           "x": {"field": "x", "type": "quantitative", "scale": {"domain": [-3.2, 5.2], "nice": false, "zero": false}, "axis": {"values": [-2.5, 0, 2.5], "format": ".1f", "title": "YWHAG.1:NPTX2", "labelFontSize": 9.5, "labelPadding": 0, "titlePadding": 1, "titleFontSize": 10}},
           "y": {"field": "y", "type": "quantitative", "scale": {"domain": [-3.5, 5.3], "nice": false, "zero": false}, "axis": {"values": [-2, 0, 2, 4], "title": "YWHAZ:NPTX2", "labelFontSize": 9.5, "labelPadding": 1, "titlePadding": 2, "titleFontSize": 10}},
           "color": {"field": "s", "type": "ordinal", "scale": {"domain": [0,1,2,3], "range": ["#fef3ed","#fcab8f","#ef4533","#67000d"]}, "legend": null},
           "order": {"field": "s", "type": "quantitative"}}},
         {"data": {"values": [{"t": "r=0.94"}]}, "mark": {"type": "text", "align": "right", "baseline": "bottom", "fontSize": 10.5, "color": "#222"},
          "encoding": {"text": {"field": "t"}, "x": {"datum": 5.1}, "y": {"datum": -3.2}}}
        ]}
      ]}
    ]},
   {"width": 19, "height": 1, "data": {"values": [{}]}, "mark": {"type": "point", "opacity": 0}},
   {"spacing": 0,
    "vconcat": [
     {"width": 1, "height": 33, "data": {"values": [{}]}, "mark": {"type": "point", "opacity": 0}},
     {"width": 54, "height": 86, "data": {"name": "d"},
      "layer": [
       {"mark": {"type": "bar", "color": "#5b7475"},
        "encoding": {
         "x": {"field": "m", "type": "nominal", "sort": ["YWHAZ:NPTX2","YWHAG.1:NPTX2","YWHAZ:NPTX2,|YWHAG.1:NPTX2"], "scale": {"paddingInner": 0.15, "paddingOuter": 0.08}, "axis": {"title": null, "labelAngle": -45, "labelFontSize": 9, "labelExpr": "split(datum.label, '|')"}},
         "y": {"field": "v", "type": "quantitative", "scale": {"domain": [0, 0.424], "nice": false}, "axis": {"values": [0, 0.1, 0.2, 0.3, 0.4], "format": ".1f", "title": "r-squared"}}}},
       {"mark": {"type": "rule", "color": "#222"}, "encoding": {"x": {"field": "m", "type": "nominal", "sort": ["YWHAZ:NPTX2","YWHAG.1:NPTX2","YWHAZ:NPTX2,|YWHAG.1:NPTX2"]}, "y": {"field": "lo", "type": "quantitative", "title": "r-squared"}, "y2": {"field": "hi"}}},
       {"mark": {"type": "tick", "color": "#222", "size": 6, "thickness": 1}, "encoding": {"x": {"field": "m", "type": "nominal", "sort": ["YWHAZ:NPTX2","YWHAG.1:NPTX2","YWHAZ:NPTX2,|YWHAG.1:NPTX2"]}, "y": {"field": "lo", "type": "quantitative", "title": "r-squared"}}},
       {"mark": {"type": "tick", "color": "#222", "size": 6, "thickness": 1}, "encoding": {"x": {"field": "m", "type": "nominal", "sort": ["YWHAZ:NPTX2","YWHAG.1:NPTX2","YWHAZ:NPTX2,|YWHAG.1:NPTX2"]}, "y": {"field": "hi", "type": "quantitative", "title": "r-squared"}}},
       {"data": {"name": "dbr"}, "mark": {"type": "line", "color": "#222", "strokeWidth": 0.8}, "encoding": {"x": {"field": "m", "type": "nominal", "sort": ["YWHAZ:NPTX2","YWHAG.1:NPTX2","YWHAZ:NPTX2,|YWHAG.1:NPTX2"]}, "y": {"field": "y", "type": "quantitative", "title": "r-squared"}, "order": {"field": "o", "type": "quantitative"}}},
       {"data": {"name": "dtx"}, "mark": {"type": "text", "fontSize": 10, "color": "#222", "font": "Liberation Sans"}, "encoding": {"x": {"field": "m", "type": "nominal", "sort": ["YWHAZ:NPTX2","YWHAG.1:NPTX2","YWHAZ:NPTX2,|YWHAG.1:NPTX2"]}, "y": {"field": "y", "type": "quantitative", "title": "r-squared"}, "text": {"field": "t"}}},
       {"data": {"values": [{"t": "d"}]}, "mark": {"type": "text", "align": "left", "baseline": "middle", "fontSize": 12, "fontWeight": "bold", "color": "#000", "dx": -41},
        "encoding": {"text": {"field": "t"}, "x": {"datum": "YWHAZ:NPTX2"}, "y": {"datum": 0.52}}}
      ]}
    ]},
   {"width": 56, "height": 1, "data": {"values": [{}]}, "mark": {"type": "point", "opacity": 0}},
   {"spacing": 0,
    "vconcat": [
     {"width": 1, "height": 22, "data": {"values": [{}]}, "mark": {"type": "point", "opacity": 0}},
     {"width": 41, "height": 81,
      "layer": [
       {"data": {"name": "ebox"}, "mark": {"type": "rule", "color": "#333"},
        "encoding": {"x": {"field": "s", "type": "ordinal", "scale": {"paddingInner": 0.2, "paddingOuter": 0.6}, "axis": {"title": "BioFINDER2", "labels": false, "ticks": false, "titlePadding": 8}},
         "y": {"field": "lo", "type": "quantitative", "scale": {"domain": [-3.65, 4.75], "nice": false}, "axis": {"values": [-2, 0, 2, 4], "title": "YWHAZ:NPTX2", "titlePadding": 4}}, "y2": {"field": "hi"}}},
       {"data": {"name": "ebox"}, "mark": {"type": "bar", "stroke": "#333", "strokeWidth": 0.8},
        "encoding": {"x": {"field": "s", "type": "ordinal"}, "y": {"field": "q1", "type": "quantitative", "title": "YWHAZ:NPTX2"}, "y2": {"field": "q3"},
         "color": {"field": "s", "type": "ordinal", "scale": {"domain": [0,1,2,3], "range": ["#fef3ed","#fcab8f","#ef4533","#67000d"]}, "legend": null}}},
       {"data": {"name": "ebox"}, "mark": {"type": "tick", "color": "#333", "size": 6.6, "thickness": 1},
        "encoding": {"x": {"field": "s", "type": "ordinal"}, "y": {"field": "med", "type": "quantitative", "title": "YWHAZ:NPTX2"}}},
       {"data": {"name": "eout"}, "mark": {"type": "circle", "color": "#333", "size": 4, "opacity": 1},
        "encoding": {"x": {"field": "s", "type": "ordinal"}, "y": {"field": "v", "type": "quantitative", "title": "YWHAZ:NPTX2"}}},
       {"data": {"values": [{"t": "Mass-spec"}]}, "mark": {"type": "text", "align": "center", "baseline": "middle", "fontSize": 9.5, "font": "Liberation Sans", "color": "#222", "dx": 4.1},
        "encoding": {"text": {"field": "t"}, "x": {"datum": 1, "type": "ordinal"}, "y": {"datum": 7.46}}},
       {"data": {"values": [{"t": "r=0.63"}]}, "mark": {"type": "text", "align": "center", "baseline": "middle", "fontSize": 9.5, "font": "DejaVu Sans Mono", "color": "#333", "dx": 4.1},
        "encoding": {"text": {"field": "t"}, "x": {"datum": 1, "type": "ordinal"}, "y": {"datum": 5.38}}},
       {"data": {"values": [{"t": "e"}]}, "mark": {"type": "text", "align": "left", "baseline": "middle", "fontSize": 12, "fontWeight": "bold", "color": "#000", "dx": -46},
        "encoding": {"text": {"field": "t"}, "x": {"datum": 0, "type": "ordinal"}, "y": {"datum": 7.5}}},
       {"data": {"values": [{"t": "f"}]}, "mark": {"type": "text", "align": "left", "baseline": "middle", "fontSize": 12, "fontWeight": "bold", "color": "#000", "dx": 59},
        "encoding": {"text": {"field": "t"}, "x": {"datum": 0, "type": "ordinal"}, "y": {"datum": 7.5}}}
      ]}
    ]},
   {"width": 11, "height": 1, "data": {"values": [{}]}, "mark": {"type": "point", "opacity": 0}},
   {"spacing": 0,
    "vconcat": [
     {"width": 1, "height": 29, "data": {"values": [{}]}, "mark": {"type": "point", "opacity": 0}},
     {"width": 62, "height": 78,
      "title": {"text": ["Cognitive impairment", "multivariate regression"], "font": "Liberation Sans", "fontSize": 10.5, "lineHeight": 10, "offset": 6, "frame": "bounds"},
      "data": {"name": "f"},
      "layer": [
       {"mark": {"type": "rule", "color": "#333"}, "encoding": {"x": {"datum": 0, "type": "quantitative", "scale": {"domain": [-0.172, 0.495], "nice": false}, "axis": {"values": [0, 0.2, 0.4], "labelExpr": "datum.value === 0 ? '0' : format(datum.value, '.1f')", "title": "standardized effect size", "titleFont": "Liberation Sans", "titleFontSize": 10.5, "titleX": 8, "labelFont": "Liberation Sans", "titlePadding": 6}}}},
       {"mark": {"type": "rule", "color": "#999"}, "encoding": {"x": {"field": "lo", "type": "quantitative", "title": "standardized effect size"}, "x2": {"field": "hi"}, "y": {"field": "v", "type": "nominal", "sort": null, "scale": {"type": "point", "range": [3, 71], "padding": 0}, "axis": {"title": null, "domain": false, "ticks": false, "labelAlign": "left", "labelPadding": 56, "labelFont": "DejaVu Sans Mono", "labelFontSize": 8.5}}}},
       {"mark": {"type": "square", "size": 40, "color": "#4e6868", "opacity": 1}, "encoding": {"x": {"field": "e", "type": "quantitative", "title": "standardized effect size"}, "y": {"field": "v", "type": "nominal", "sort": null, "title": null}}}
      ]}
    ]},
   {"width": 16, "height": 1, "data": {"values": [{}]}, "mark": {"type": "point", "opacity": 0}},
   {"spacing": 0,
    "vconcat": [
     {"width": 1, "height": 4, "data": {"values": [{}]}, "mark": {"type": "point", "opacity": 0}},
     {"width": 124, "height": 101, "data": {"name": "g"},
      "layer": [
       {"mark": {"type": "bar", "color": "#5b7475"},
        "encoding": {
         "x": {"field": "m", "type": "nominal", "sort": null, "scale": {"paddingInner": 0.3, "paddingOuter": 0.35}, "axis": {"title": null, "labelAngle": -45, "labelFont": "Liberation Sans", "labelFontSize": 8.5, "labelExpr": "split(datum.label, '|')"}},
         "y": {"field": "v", "type": "quantitative", "scale": {"domain": [0, 0.585], "nice": false}, "axis": {"values": [0, 0.1, 0.2, 0.3, 0.4, 0.5], "format": ".1f", "title": "r-squared", "titleFont": "Liberation Sans", "labelFont": "Liberation Sans", "labelFontSize": 9.5}}}},
       {"mark": {"type": "rule", "color": "#222"}, "encoding": {"x": {"field": "m", "type": "nominal", "sort": null}, "y": {"field": "lo", "type": "quantitative", "title": "r-squared"}, "y2": {"field": "hi"}}},
       {"mark": {"type": "tick", "color": "#222", "size": 6, "thickness": 1}, "encoding": {"x": {"field": "m", "type": "nominal", "sort": null}, "y": {"field": "lo", "type": "quantitative", "title": "r-squared"}}},
       {"mark": {"type": "tick", "color": "#222", "size": 6, "thickness": 1}, "encoding": {"x": {"field": "m", "type": "nominal", "sort": null}, "y": {"field": "hi", "type": "quantitative", "title": "r-squared"}}},
       {"data": {"name": "gbr"}, "mark": {"type": "line", "color": "#222", "strokeWidth": 0.8}, "encoding": {"x": {"field": "m", "type": "nominal", "sort": null}, "y": {"field": "y", "type": "quantitative", "title": "r-squared"}, "detail": {"field": "b"}, "order": {"field": "o", "type": "quantitative"}}},
       {"data": {"name": "gtx"}, "mark": {"type": "text", "fontSize": 10, "color": "#222", "font": "Liberation Sans", "dx": 9.7}, "encoding": {"x": {"field": "m", "type": "nominal", "sort": null}, "y": {"field": "y", "type": "quantitative", "title": "r-squared"}, "text": {"field": "t"}}},
       {"data": {"values": [{"t": "g"}]}, "mark": {"type": "text", "align": "left", "baseline": "middle", "fontSize": 12, "fontWeight": "bold", "color": "#000", "dx": -47},
        "encoding": {"text": {"field": "t"}, "x": {"datum": "AB42:AB40, TauPET"}, "y": {"datum": 0.651}}}
      ]}
    ]}
  ]}
]
}
